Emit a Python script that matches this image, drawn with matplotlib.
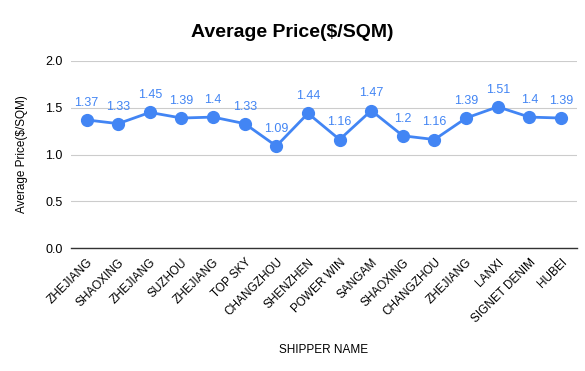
import matplotlib
matplotlib.use("Agg")
import matplotlib.pyplot as plt

plt.rcParams['font.family'] = ['Liberation Sans', 'DejaVu Sans']

shippers = ["ZHEJIANG", "SHAOXING", "ZHEJIANG", "SUZHOU", "ZHEJIANG", "TOP SKY",
            "CHANGZHOU", "SHENZHEN", "POWER WIN", "SANGAM", "SHAOXING", "CHANGZHOU",
            "ZHEJIANG", "LANXI", "SIGNET DENIM", "HUBEI"]
prices = [1.37, 1.33, 1.45, 1.39, 1.4, 1.33, 1.09, 1.44, 1.16, 1.47, 1.2, 1.16,
          1.39, 1.51, 1.4, 1.39]
yticks = [0.0, 0.5, 1.0, 1.5, 2.0]

blue = "#4285F4"

fig = plt.figure(figsize=(5.85, 3.71), dpi=100)
ax = fig.add_axes([0.121, 0.3315, 0.865, 0.5041])

x = list(range(len(prices)))
ax.plot(x, prices, color=blue, lw=2, marker="o", markersize=8.5, zorder=3)
for xi, v in zip(x, prices):
    ax.annotate(f"{v:g}", (xi, v), xytext=(0, 8), textcoords="offset points",
                ha="center", va="bottom", color=blue, fontsize=9)

ax.set_xlim(-0.5, len(prices) - 0.5)
ax.set_ylim(0, 2.0)
ax.set_yticks(yticks)
ax.set_yticklabels([f"{t:.1f}" for t in yticks], fontsize=9)
ax.set_xticks(x)
ax.set_xticklabels(shippers, rotation=45, ha="right", rotation_mode="anchor", fontsize=8.5)
ax.tick_params(length=0, pad=6)
ax.grid(axis="y", color="#cccccc", lw=0.8)
ax.set_axisbelow(True)
for s in ["top", "right", "left"]:
    ax.spines[s].set_visible(False)
ax.spines["bottom"].set_color("#333333")
ax.spines["bottom"].set_linewidth(1)

ax.set_xlabel("SHIPPER NAME", fontsize=8.5, labelpad=14)
ax.set_ylabel("Average Price($/SQM)", fontsize=8.5, labelpad=12)
fig.text(0.5, 0.912, "Average Price($/SQM)", ha="center", va="center",
         fontsize=14, fontweight="bold")

fig.savefig("out.png", dpi=100)
